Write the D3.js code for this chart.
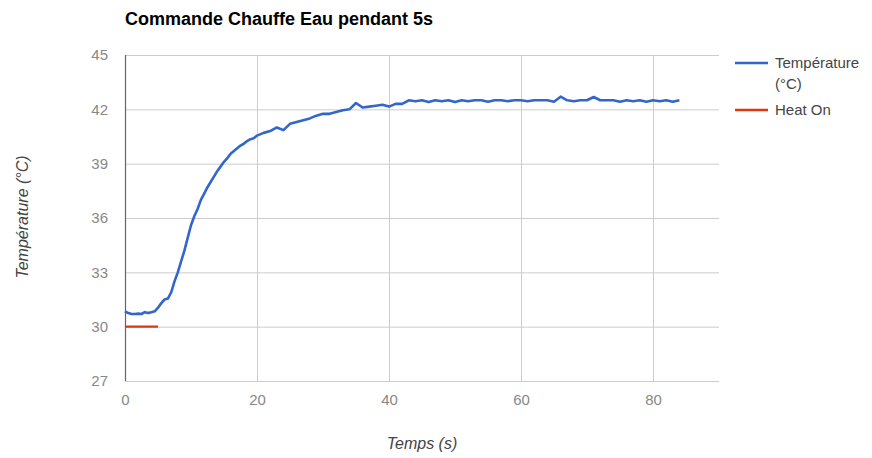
<!DOCTYPE html>
<html><head><meta charset="utf-8">
<script src="https://cdn.jsdelivr.net/npm/d3@7"></script>
<style>
html,body{margin:0;padding:0;background:#fff;}
svg{display:block;font-family:Arial,"Liberation Sans",sans-serif;}
</style></head>
<body><svg id="c" width="872" height="458"></svg>
<script>
const title = "Commande Chauffe Eau pendant 5s";
const seriesNames = ["Température (°C)", "Heat On"];
const tempTimes = [0,0.5,1,1.5,2,2.5,3,3.5,4,4.5,5,5.5,6,6.5,7,7.5,8,8.5,9,9.5,10,10.5,11,11.5,12,12.5,13,13.5,14,14.5,15,15.5,16,16.5,17,17.5,18,18.5,19,19.5,20,
21,22,23,24,25,26,27,28,29,30,31,32,33,34,35,36,37,38,39,40,41,42,43,44,45,46,47,48,49,50,51,52,53,54,55,56,57,58,59,60,61,62,63,64,65,66,67,68,69,70,71,72,73,74,75,76,77,78,79,80,81,82,83,84];
const tempValues = [30.85,30.75,30.7,30.7,30.72,30.7,30.8,30.75,30.8,30.85,31.05,31.3,31.5,31.55,31.9,32.5,33.0,33.6,34.2,34.9,35.6,36.1,36.5,37.0,37.35,37.7,38.0,38.3,38.6,38.85,39.1,39.3,39.55,39.7,39.85,40.0,40.1,40.25,40.35,40.4,40.55,
40.7,40.8,41.0,40.85,41.2,41.3,41.4,41.5,41.65,41.75,41.75,41.85,41.95,42.0,42.35,42.1,42.15,42.2,42.25,42.15,42.3,42.3,42.5,42.45,42.5,42.4,42.5,42.45,42.5,42.4,42.5,42.45,42.5,42.5,42.42,42.5,42.5,42.45,42.5,42.5,42.45,42.5,42.5,42.5,42.42,42.7,42.5,42.45,42.5,42.5,42.68,42.5,42.5,42.5,42.42,42.5,42.45,42.5,42.42,42.5,42.45,42.5,42.42,42.5];
const heatTimes = [0,5];
const heatValues = [30,30];
const xTicks = [0,20,40,60,80];
const yTicks = [27,30,33,36,39,42,45];
const colors = ["#3366cc","#dc3912"];

const svg = d3.select("#c");
const L = 125, R = 719, T = 55, B = 381;
const x = d3.scaleLinear().domain([0,90]).range([L,R]);
const y = d3.scaleLinear().domain([27,45]).range([B,T]);

// gridlines
svg.append("g").selectAll("line").data(yTicks).join("line")
  .attr("x1",L).attr("x2",R).attr("y1",d=>y(d)+0.5).attr("y2",d=>y(d)+0.5)
  .attr("stroke","#cccccc").attr("stroke-width",1);
svg.append("g").selectAll("line").data(xTicks.filter(d=>d>0)).join("line")
  .attr("y1",T).attr("y2",B).attr("x1",d=>x(d)+0.5).attr("x2",d=>x(d)+0.5)
  .attr("stroke","#cccccc").attr("stroke-width",1);
// baseline
svg.append("line").attr("x1",x(0)+0.5).attr("x2",x(0)+0.5).attr("y1",T).attr("y2",B)
  .attr("stroke","#666").attr("stroke-width",1.2);

// axes labels
const yAxis = d3.axisLeft(y).tickValues(yTicks).tickSize(0).tickPadding(17);
const gy = svg.append("g").attr("transform",`translate(${L},0)`).call(yAxis);
gy.select(".domain").remove();
gy.selectAll("text").attr("font-size",15).attr("fill","#888").attr("font-family","Arial, 'Liberation Sans', sans-serif");
const xAxis = d3.axisBottom(x).tickValues(xTicks).tickSize(0).tickPadding(13);
const gx = svg.append("g").attr("transform",`translate(0,${B})`).call(xAxis);
gx.select(".domain").remove();
gx.selectAll("text").attr("font-size",15).attr("fill","#888").attr("font-family","Arial, 'Liberation Sans', sans-serif");

// lines
const line = d3.line().x(d=>x(d[0])).y(d=>y(d[1]));
svg.append("path").datum(heatTimes.map((t,i)=>[t,heatValues[i]]))
  .attr("d",line).attr("fill","none").attr("stroke",colors[1]).attr("stroke-width",2.2);
svg.append("path").datum(tempTimes.map((t,i)=>[t,tempValues[i]]))
  .attr("d",line).attr("fill","none").attr("stroke",colors[0]).attr("stroke-width",2.6)
  .attr("stroke-linejoin","round");

// title
svg.append("text").attr("x",125).attr("y",25).attr("font-size",18).attr("font-weight","bold")
  .attr("fill","#000").text(title);

// axis titles
svg.append("text").attr("x",(L+R)/2).attr("y",449).attr("text-anchor","middle")
  .attr("font-size",16).attr("font-style","italic").attr("fill","#444").text("Temps (s)");
svg.append("text").attr("transform","translate(28,217) rotate(-90)").attr("text-anchor","middle")
  .attr("font-size",16).attr("font-style","italic").attr("fill","#444").text("Température (°C)");

// legend
const lg = svg.append("g");
lg.append("line").attr("x1",735).attr("x2",768).attr("y1",63).attr("y2",63).attr("stroke",colors[0]).attr("stroke-width",2.4);
lg.append("text").attr("x",775).attr("y",68).attr("font-size",15).attr("fill","#444").text("Température");
lg.append("text").attr("x",775).attr("y",89).attr("font-size",15).attr("fill","#444").text("(°C)");
lg.append("line").attr("x1",735).attr("x2",768).attr("y1",110).attr("y2",110).attr("stroke",colors[1]).attr("stroke-width",2.4);
lg.append("text").attr("x",775).attr("y",115).attr("font-size",15).attr("fill","#444").text("Heat On");
</script></body></html>
